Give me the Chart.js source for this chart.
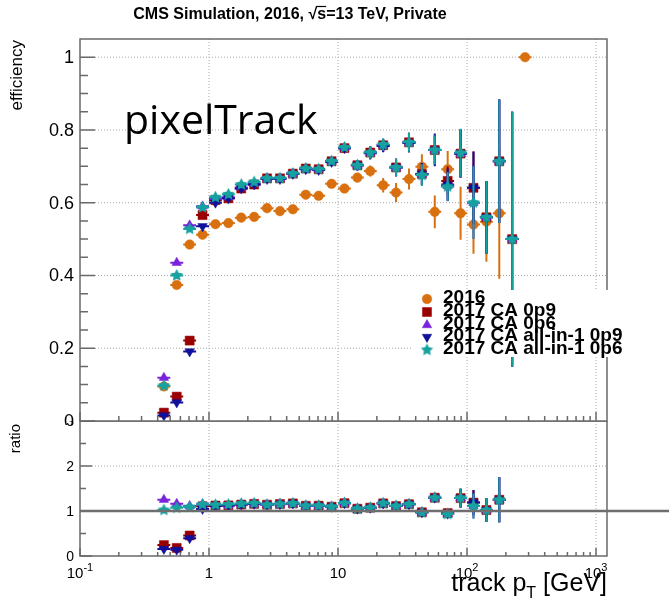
<!DOCTYPE html>
<html>
<head>
<meta charset="utf-8">
<script src="https://cdn.jsdelivr.net/npm/chart.js@4.4.1/dist/chart.umd.min.js"></script>
<style>
    html, body { margin: 0; padding: 0; background: #fff; }
    #wrap { position: relative; width: 669px; height: 604px; overflow: hidden; }
    #effCanvas { position: absolute; left: 0; top: 0; }
    #ratioCanvas { position: absolute; left: 0; top: 421px; }
</style>
</head>
<body>
<div id="wrap">
    <canvas id="effCanvas" width="669" height="425"></canvas>
    <canvas id="ratioCanvas" width="669" height="183"></canvas>
</div>
<script>
// ── data ──────────────────────────────────────────────────
var ptCenters = [0.447, 0.562, 0.708, 0.891, 1.122, 1.413, 1.778, 2.239, 2.818, 3.548,
                 4.467, 5.623, 7.079, 8.913, 11.22, 14.13, 17.78, 22.39, 28.18, 35.48,
                 44.67, 56.23, 70.79, 89.13, 112.2, 141.3, 177.8, 223.9, 281.8];
var binEdges  = [0.398, 0.501, 0.631, 0.794, 1.0, 1.259, 1.585, 1.995, 2.512, 3.162,
                 3.981, 5.012, 6.31, 7.943, 10, 12.59, 15.85, 19.95, 25.12, 31.62,
                 39.81, 50.12, 63.1, 79.43, 100, 125.9, 158.5, 199.5, 251.2, 316.2];

var eff2016  = [0.095, 0.374, 0.485, 0.512, 0.541, 0.544, 0.559, 0.561, 0.585, 0.577,
                0.582, 0.622, 0.619, 0.652, 0.639, 0.669, 0.687, 0.648, 0.628, 0.665,
                0.699, 0.575, 0.692, 0.571, 0.540, 0.548, 0.571, null, 1.0];
var effCA09  = [0.023, 0.067, 0.221, 0.566, 0.607, 0.612, 0.639, 0.650, 0.667, 0.667,
                0.680, 0.694, 0.692, 0.714, 0.750, 0.703, 0.738, 0.758, 0.697, 0.766,
                0.679, 0.745, 0.660, 0.735, 0.641, 0.560, 0.714, 0.500, null];
var effCA06  = [0.119, 0.435, 0.538, 0.590, 0.610, 0.615, 0.642, 0.652, 0.667, 0.667,
                0.680, 0.694, 0.692, 0.714, 0.752, 0.703, 0.738, 0.758, 0.697, 0.766,
                0.679, 0.745, 0.646, 0.735, 0.600, 0.560, 0.714, 0.500, null];
var effAll09 = [0.015, 0.051, 0.191, 0.535, 0.600, 0.612, 0.639, 0.650, 0.665, 0.665,
                0.679, 0.692, 0.690, 0.712, 0.750, 0.703, 0.736, 0.756, 0.697, 0.764,
                0.679, 0.745, 0.650, 0.735, 0.641, 0.560, 0.714, 0.500, null];
var effAll06 = [0.097, 0.400, 0.528, 0.587, 0.615, 0.623, 0.650, 0.657, 0.667, 0.667,
                0.680, 0.694, 0.692, 0.714, 0.752, 0.703, 0.738, 0.760, 0.697, 0.766,
                0.676, 0.745, 0.644, 0.737, 0.600, 0.560, 0.714, 0.500, null];

var err2016  = [0.005, 0.005, 0.005, 0.005, 0.005, 0.005, 0.005, 0.005, 0.005, 0.005,
                0.006, 0.006, 0.007, 0.007, 0.008, 0.012, 0.015, 0.020, 0.026, 0.029,
                0.034, 0.045, 0.050, 0.073, 0.080, 0.110, 0.180, null, 0];
var err2017  = [0.005, 0.005, 0.005, 0.005, 0.005, 0.005, 0.005, 0.005, 0.005, 0.005,
                0.006, 0.006, 0.007, 0.007, 0.008, 0.014, 0.017, 0.017, 0.024, 0.026,
                0.030, 0.040, 0.040, 0.066, 0.100, 0.100, 0.170, 0.350, null];
var errAll09 = [0.005, 0.005, 0.005, 0.005, 0.005, 0.005, 0.005, 0.005, 0.005, 0.005,
                0.006, 0.006, 0.007, 0.007, 0.008, 0.014, 0.017, 0.017, 0.024, 0.026,
                0.030, 0.045, 0.045, 0.066, 0.100, 0.100, 0.170, 0.350, null];
var ratioErr = [0.05, 0.03, 0.03, 0.02, 0.02, 0.02, 0.02, 0.02, 0.02, 0.02,
                0.02, 0.02, 0.02, 0.02, 0.02, 0.02, 0.03, 0.03, 0.03, 0.03,
                0.03, 0.03, 0.05, 0.21, 0.28, 0.26, 0.50, null, null];

var seriesNames  = ['2016', '2017 CA 0p9', '2017 CA 0p6', '2017 CA all-in-1 0p9', '2017 CA all-in-1 0p6'];
var seriesColors = ['#d9700f', '#9a0000', '#7a22dc', '#10109a', '#17a2a0'];

var xMajor      = [0.1, 1, 10, 100, 1000];
var xMajorBase  = ['10', '1', '10', '10', '10'];
var xMajorExp   = ['-1', '', '', '2', '3'];
var yTicks      = [0, 0.2, 0.4, 0.6, 0.8, 1];
var yTickLabels = ['0', '0.2', '0.4', '0.6', '0.8', '1'];
var rTicks      = [0, 1, 2, 3];
var rTickLabels = ['0', '1', '2', '3'];

var FONT = '"Liberation Sans", Arial, sans-serif';
var AXIS = '#6a6a6a';

// ── markers ──────────────────────────────────────────────
function makeStar(color, r) {
    var s = Math.ceil(r * 2) + 2;
    var c = document.createElement('canvas');
    c.width = s; c.height = s;
    var g = c.getContext('2d');
    g.fillStyle = color;
    g.beginPath();
    for (var i = 0; i < 10; i++) {
        var a = -Math.PI / 2 + i * Math.PI / 5;
        var rr = i % 2 ? r * 0.5 : r;
        g.lineTo(s / 2 + rr * Math.cos(a), s / 2 + rr * Math.sin(a));
    }
    g.closePath();
    g.fill();
    return c;
}
var starImg = makeStar(seriesColors[4], 6.5);

var markerStyles = [
    { pointStyle: 'circle',   radius: 4.8, rotation: 0 },
    { pointStyle: 'rect',     radius: 6.4, rotation: 0 },
    { pointStyle: 'triangle', radius: 5.5, rotation: 0 },
    { pointStyle: 'triangle', radius: 5.5, rotation: 180 },
    { pointStyle: starImg,    radius: 6.5, rotation: 0 }
];

// ── build point lists ────────────────────────────────────
function buildPoints(vals, errs) {
    var out = [];
    for (var k = 0; k < vals.length; k++) {
        if (vals[k] === null) continue;
        out.push({ x: ptCenters[k], y: vals[k], lo: binEdges[k], hi: binEdges[k + 1], e: errs[k] || 0 });
    }
    return out;
}

// ratio to the 2016 points, bin by bin
function buildRatio(vals) {
    var out = [];
    for (var k = 0; k < vals.length; k++) {
        if (vals[k] === null || eff2016[k] === null || ratioErr[k] === null) continue;
        out.push({ x: ptCenters[k], y: vals[k] / eff2016[k], lo: binEdges[k], hi: binEdges[k + 1], e: ratioErr[k] });
    }
    return out;
}

function makeDataset(i, pts) {
    var m = markerStyles[i];
    return {
        label: seriesNames[i],
        data: pts,
        showLine: false,
        pointStyle: m.pointStyle,
        pointRadius: m.radius,
        pointRotation: m.rotation,
        pointBackgroundColor: seriesColors[i],
        pointBorderColor: seriesColors[i],
        pointBorderWidth: 0.5,
        borderColor: seriesColors[i],
        backgroundColor: seriesColors[i],
        pointHoverRadius: m.radius,
        clip: false,
        order: 4 - i
    };
}

// ── plugins ──────────────────────────────────────────────
var errorBars = {
    id: 'errorBars',
    beforeDatasetDraw: function (chart, args) {
        var ds = chart.data.datasets[args.index];
        var ctx = chart.ctx, xs = chart.scales.x, ys = chart.scales.y;
        ctx.save();
        ctx.strokeStyle = ds.borderColor;
        ctx.lineWidth = 2;
        ds.data.forEach(function (p) {
            var px = xs.getPixelForValue(p.x), py = ys.getPixelForValue(p.y);
            ctx.beginPath();
            ctx.moveTo(xs.getPixelForValue(p.lo), py);
            ctx.lineTo(xs.getPixelForValue(p.hi), py);
            if (p.e) {
                ctx.moveTo(px, ys.getPixelForValue(Math.max(p.y - p.e, ys.min)));
                ctx.lineTo(px, ys.getPixelForValue(Math.min(p.y + p.e, ys.max)));
            }
            ctx.stroke();
        });
        ctx.restore();
    }
};

function minorLogTicks(min, max) {
    var out = [];
    for (var d = 0.1; d < max; d *= 10) {
        for (var m = 2; m <= 9; m++) {
            var v = d * m;
            if (v > min && v < max) out.push(v);
        }
    }
    return out;
}

function drawDotted(ctx, x1, y1, x2, y2) {
    ctx.save();
    ctx.strokeStyle = '#a8a8a8';
    ctx.lineWidth = 1;
    ctx.setLineDash([1, 2]);
    ctx.beginPath();
    ctx.moveTo(x1, y1); ctx.lineTo(x2, y2);
    ctx.stroke();
    ctx.restore();
}

function drawXTickLabel(ctx, x, y, base, exp, size) {
    ctx.save();
    ctx.fillStyle = '#000';
    ctx.textBaseline = 'alphabetic';
    ctx.textAlign = 'left';
    ctx.font = size + 'px ' + FONT;
    var wb = ctx.measureText(base).width;
    ctx.font = Math.round(size * 0.7) + 'px ' + FONT;
    var we = exp ? ctx.measureText(exp).width : 0;
    var x0 = x - (wb + we) / 2;
    ctx.font = size + 'px ' + FONT;
    ctx.fillText(base, x0, y);
    if (exp) {
        ctx.font = Math.round(size * 0.7) + 'px ' + FONT;
        ctx.fillText(exp, x0 + wb, y - size * 0.45);
    }
    ctx.restore();
}

// dotted grid behind the points
var panelGrid = {
    id: 'panelGrid',
    beforeDatasetsDraw: function (chart, args, opts) {
        var ctx = chart.ctx, a = chart.chartArea, xs = chart.scales.x, ys = chart.scales.y;
        xMajor.forEach(function (v) {
            var px = xs.getPixelForValue(v);
            if (px > a.left + 1 && px < a.right - 1) drawDotted(ctx, px, a.top, px, a.bottom);
        });
        opts.yGrid.forEach(function (v) {
            var py = ys.getPixelForValue(v);
            drawDotted(ctx, a.left, py, a.right, py);
        });
    }
};

// frame, ticks, y labels and y title
var panelFrame = {
    id: 'panelFrame',
    afterDatasetsDraw: function (chart, args, opts) {
        var ctx = chart.ctx, a = chart.chartArea, xs = chart.scales.x, ys = chart.scales.y;
        ctx.save();
        ctx.strokeStyle = AXIS;
        ctx.lineWidth = 1.5;
        ctx.strokeRect(a.left, a.top, a.right - a.left, a.bottom - a.top);

        ctx.beginPath();
        xMajor.forEach(function (v) {
            var px = xs.getPixelForValue(v);
            ctx.moveTo(px, a.bottom); ctx.lineTo(px, a.bottom - opts.xMajorLen);
        });
        minorLogTicks(xs.min, xs.max).forEach(function (v) {
            var px = xs.getPixelForValue(v);
            ctx.moveTo(px, a.bottom); ctx.lineTo(px, a.bottom - opts.xMinorLen);
        });
        opts.yMajor.forEach(function (v) {
            var py = ys.getPixelForValue(v);
            ctx.moveTo(a.left, py); ctx.lineTo(a.left + opts.yMajorLen, py);
        });
        opts.yMinor.forEach(function (v) {
            var py = ys.getPixelForValue(v);
            ctx.moveTo(a.left, py); ctx.lineTo(a.left + opts.yMinorLen, py);
        });
        ctx.stroke();

        ctx.fillStyle = '#000';
        ctx.font = opts.yFont + 'px ' + FONT;
        ctx.textAlign = 'right';
        ctx.textBaseline = 'middle';
        opts.yMajor.forEach(function (v, i) {
            ctx.fillText(opts.yLabels[i], a.left - 6, ys.getPixelForValue(v) + 1);
        });

        ctx.font = opts.titleFont + 'px ' + FONT;
        ctx.translate(opts.titleX, opts.titleY);
        ctx.rotate(-Math.PI / 2);
        ctx.textAlign = 'right';
        ctx.textBaseline = 'alphabetic';
        ctx.fillText(opts.title, 0, 0);
        ctx.restore();
    }
};

function drawLegendMarker(ctx, i, x, y) {
    var m = markerStyles[i];
    ctx.save();
    ctx.fillStyle = seriesColors[i];
    ctx.strokeStyle = seriesColors[i];
    ctx.lineWidth = 0.5;
    Chart.helpers.drawPoint(ctx, { pointStyle: m.pointStyle, radius: m.radius, rotation: m.rotation, borderWidth: 0.5 }, x, y);
    ctx.restore();
}

// title, big label and legend on the upper panel
var upperDecor = {
    id: 'upperDecor',
    afterDraw: function (chart) {
        var ctx = chart.ctx;
        ctx.save();
        ctx.font = 'bold 16px ' + FONT;
        ctx.fillStyle = '#000';
        ctx.textBaseline = 'alphabetic';
        ctx.textAlign = 'left';
        var title = 'CMS Simulation, 2016, \u221As=13 TeV, Private';
        var tw = ctx.measureText(title).width;
        var tx = 290 - tw / 2;
        ctx.fillText(title, tx, 19);
        var pre = ctx.measureText('CMS Simulation, 2016, \u221A').width;
        var sw = ctx.measureText('s').width;
        ctx.strokeStyle = '#000';
        ctx.lineWidth = 1.2;
        ctx.beginPath();
        ctx.moveTo(tx + pre - 1, 6.5); ctx.lineTo(tx + pre + sw, 6.5);
        ctx.stroke();

        ctx.font = '41px "Open Sans", sans-serif';
        ctx.fillText('pixelTrack', 124, 134);

        // legend box hides what is under it, frame included
        ctx.fillStyle = '#fff';
        ctx.fillRect(413, 290, 213, 67);
        var rows = [299, 312, 325, 337, 350];
        for (var i = 0; i < seriesNames.length; i++) drawLegendMarker(ctx, i, 427, rows[i]);
        ctx.font = 'bold 19px ' + FONT;
        ctx.fillStyle = '#000';
        for (var j = 0; j < seriesNames.length; j++) ctx.fillText(seriesNames[j], 443, rows[j] + 4);
        ctx.restore();
    }
};

// ratio = 1 line, x labels and x title on the lower panel
var lowerDecor = {
    id: 'lowerDecor',
    afterDatasetsDraw: function (chart) {
        var ctx = chart.ctx, a = chart.chartArea, ys = chart.scales.y;
        var y1 = ys.getPixelForValue(1);
        ctx.save();
        ctx.strokeStyle = '#6e6e6e';
        ctx.lineWidth = 2.5;
        ctx.beginPath();
        ctx.moveTo(a.left, y1); ctx.lineTo(chart.width, y1);
        ctx.stroke();
        ctx.restore();
    },
    afterDraw: function (chart) {
        var ctx = chart.ctx, a = chart.chartArea, xs = chart.scales.x;
        xMajor.forEach(function (v, i) {
            drawXTickLabel(ctx, xs.getPixelForValue(v), a.bottom + 22, xMajorBase[i], xMajorExp[i], 15);
        });
        ctx.save();
        ctx.fillStyle = '#000';
        ctx.textBaseline = 'alphabetic';
        ctx.textAlign = 'left';
        ctx.font = '25px ' + FONT;
        var w1 = ctx.measureText('track p').width;
        var w3 = ctx.measureText(' [GeV]').width;
        ctx.font = '16px ' + FONT;
        var w2 = ctx.measureText('T').width;
        var x0 = a.right - (w1 + w2 + w3);
        var base = a.bottom + 35;
        ctx.font = '25px ' + FONT;
        ctx.fillText('track p', x0, base);
        ctx.fillText(' [GeV]', x0 + w1 + w2, base);
        ctx.font = '16px ' + FONT;
        ctx.fillText('T', x0 + w1, base + 7);
        ctx.restore();
    }
};

// ── charts ───────────────────────────────────────────────
var effSeries = [eff2016, effCA09, effCA06, effAll09, effAll06];
var effErrs   = [err2016, err2017, err2017, errAll09, err2017];

var upperSets = effSeries.map(function (vals, i) { return makeDataset(i, buildPoints(vals, effErrs[i])); });
var lowerSets = [1, 2, 3, 4].map(function (i) { return makeDataset(i, buildRatio(effSeries[i])); });

function range(from, to, step) {
    var out = [];
    for (var v = from; v <= to + 1e-9; v += step) out.push(Math.round(v * 1000) / 1000);
    return out;
}

function baseOptions(pad, yMin, yMax, frameOpts, gridOpts) {
    return {
        responsive: false,
        animation: false,
        events: [],
        layout: { padding: pad, autoPadding: false },
        plugins: {
            legend: { display: false },
            tooltip: { enabled: false },
            panelFrame: frameOpts,
            panelGrid: gridOpts
        },
        scales: {
            x: { type: 'logarithmic', min: 0.1, max: 1216, display: false },
            y: { type: 'linear', min: yMin, max: yMax, display: false }
        }
    };
}

new Chart(document.getElementById('effCanvas').getContext('2d'), {
    type: 'scatter',
    data: { datasets: upperSets },
    options: baseOptions({ left: 80, top: 39, right: 62, bottom: 4 }, 0, 1.05, {
        xMajorLen: 9, xMinorLen: 5, yMajorLen: 15, yMinorLen: 8,
        yMajor: yTicks, yMinor: range(0.05, 1.0, 0.05), yLabels: yTickLabels, yFont: 18,
        title: 'efficiency', titleFont: 17, titleX: 22, titleY: 40
    }, { yGrid: [0.2, 0.4, 0.6, 0.8, 1] }),
    plugins: [panelGrid, errorBars, panelFrame, upperDecor]
});

new Chart(document.getElementById('ratioCanvas').getContext('2d'), {
    type: 'scatter',
    data: { datasets: lowerSets },
    options: baseOptions({ left: 80, top: 0, right: 62, bottom: 48 }, 0, 3, {
        xMajorLen: 8, xMinorLen: 4, yMajorLen: 12, yMinorLen: 6,
        yMajor: rTicks, yMinor: [0.5, 1.5, 2.5], yLabels: rTickLabels, yFont: 14,
        title: 'ratio', titleFont: 15, titleX: 20, titleY: 3
    }, { yGrid: [2] }),
    plugins: [panelGrid, errorBars, panelFrame, lowerDecor]
});
</script>
</body>
</html>
